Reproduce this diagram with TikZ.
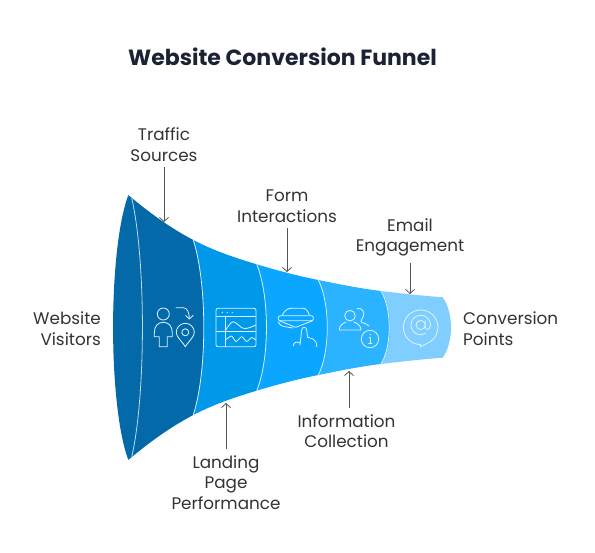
\documentclass[tikz,border=0pt]{standalone}
\usepackage{fontspec}
\setmainfont{Poppins}
\usetikzlibrary{arrows.meta}
\definecolor{bandA}{HTML}{0369A8}
\definecolor{bandB}{HTML}{0098E8}
\definecolor{bandC}{HTML}{0AA6FF}
\definecolor{bandD}{HTML}{2CB3FF}
\definecolor{bandE}{HTML}{80CEFF}
\definecolor{titleink}{HTML}{1B2233}
\definecolor{labelink}{HTML}{333333}
\definecolor{arrowink}{HTML}{555555}
\tikzset{
  label/.style={font=\fontsize{16.8}{20.5}\selectfont,text=labelink,align=center,inner sep=0pt},
  pointer/.style={-{Straight Barb[length=4pt,width=9pt]},draw=arrowink,line width=.8pt},
  icon/.style={draw=white!85!bandC,line width=.85pt,line cap=round,line join=round},
}
\begin{document}
\begin{tikzpicture}[x=1pt,y=-1pt]
\useasboundingbox (0,0) rectangle (595,553);
\node[font=\fontsize{22}{26}\selectfont\bfseries,text=titleink,inner sep=0pt] (title) at (282.5,57) {Website Conversion Funnel};
% bands, narrow end first
\foreach \col/\xa/\ya/\cax/\cay/\cbx/\cby/\xb/\yb/\bulge in {
  bandE/381/291/401.6/293.5/422.1/295.7/442.7/297.3/11,
  bandD/318.3/280/339.2/284.2/360.1/288.5/381/291/12,
  bandC/256.7/264.3/277.2/270.5/297.8/275.9/318.3/280/13,
  bandB/193.3/240/214.4/251/235.6/258/256.7/264.3/13,
  bandA/128.3/195/150/213.4/171.7/228.7/193.3/240/14}
{
  \fill[\col] (\xa,\ya) .. controls (\cax,\cay) and (\cbx,\cby) .. (\xb,\yb)
    .. controls ({\xb+\bulge},{\yb+(327.5-\yb)*.5}) and ({\xb+\bulge},{655-\yb-(327.5-\yb)*.5}) .. (\xb,{655-\yb})
    .. controls (\cbx,{655-\cby}) and (\cax,{655-\cay}) .. (\xa,{655-\ya}) -- cycle;
}
\fill[bandA] (128.3,195) .. controls (108,250) and (108,405) .. (128.3,460)
  .. controls (140,400) and (140,250) .. (128.3,195);
% seams
\foreach \xb/\yb/\bulge in {381/291/11,318.3/280/12,256.7/264.3/13,193.3/240/14}
  \draw[white!85!bandC,line width=.8pt] (\xb,\yb)
    .. controls ({\xb+\bulge},{\yb+(327.5-\yb)*.5}) and ({\xb+\bulge},{655-\yb-(327.5-\yb)*.5}) .. (\xb,{655-\yb});
\draw[white!75!bandA,line width=.8pt] (131.7,198) .. controls (146,260) and (146,395) .. (131.7,457);
% labels
\node[label] (traffic) at (164,144.5) {Traffic\\Sources};
\node[label] (form) at (287,206) {Form\\Interactions};
\node[label] (email) at (410,237.5) {Email\\Engagement};
\node[label] (info) at (346.5,431) {Information\\Collection};
\node[label] (landing) at (226,482.5) {Landing\\Page\\Performance};
\node[label,align=right,anchor=east] (visitors) at (101,328.5) {Website\\Visitors};
\node[label,align=left,anchor=west] (points) at (463,328.5) {Conversion\\Points};
% pointers
\coordinate (trafficend) at (164,222);
\coordinate (formend) at (287,272);
\coordinate (emailend) at (410,294);
\coordinate (infoend) at (349,371);
\coordinate (landingend) at (226,403);
\draw[pointer] (trafficend |- traffic.south) ++(0,6) -- (trafficend);
\draw[pointer] (formend |- form.south) ++(0,6) -- (formend);
\draw[pointer] (emailend |- email.south) ++(0,6) -- (emailend);
\draw[pointer] (infoend |- info.north) ++(0,-6) -- (infoend);
\draw[pointer] (landingend |- landing.north) ++(0,-6) -- (landingend);
% traffic icon
\draw[icon] (163.3,314) circle (6);
\draw[icon] (159.3,346.7) -- (159.3,336.7) -- (154.3,336.7) -- (154.3,333) .. controls (154.3,326) and (158,322.3) .. (163.3,322.3)
  .. controls (168.6,322.3) and (172.3,326) .. (172.3,333) -- (172.3,336.7) -- (167.3,336.7) -- (167.3,346.7) -- cycle;
\draw[icon] (185.3,346.7) .. controls (181,340) and (176.3,337) .. (176.3,332.3) arc (180:360:9) .. controls (194.3,337) and (189.6,340) .. (185.3,346.7);
\draw[icon] (185.3,332.3) circle (3.5);
\draw[icon] (176,307.7) -- (183,307.7) .. controls (187,307.7) and (189.3,312) .. (189.3,318.5);
\draw[icon] (185.6,315.5) -- (189.3,319) -- (193,315.5);
% page icon
\draw[icon,rounded corners=2pt] (216,308.3) rectangle (256,346.7);
\draw[icon] (216,316) -- (256,316) (225.7,316) -- (225.7,346.7) (216,331.7) -- (256,331.7);
\foreach \xa in {222.3,227.3,232.3}
  \fill[white!85!bandC] (\xa,312.4) circle (.7);
\draw[icon] plot[smooth] coordinates {(225.7,330) (233,321.7) (243,328.3) (250,327.5) (255.7,325)};
\draw[icon] plot[smooth] coordinates {(225.7,340) (231.5,336) (236,341.5) (241.7,336.7) (246.7,341.5) (251.7,337.5) (255.7,340)};
% form icon
\draw[icon] (282.3,315) .. controls (285,310) and (288,308.3) .. (291.7,308.3) -- (303,308.3) .. controls (306,308.3) and (308,311) .. (309.3,315);
\draw[icon,rounded corners=2pt] (278.3,315.7) rectangle (313.3,320.7);
\draw[icon] (279.3,320.7) -- (295.7,327.3) -- (312.7,320.7);
\draw[icon] (278.3,322) .. controls (280,325.5) and (283,326.7) .. (285,326.7) -- (293,328);
\draw[icon] (300,345) -- (301.7,330) .. controls (302,326.5) and (306.5,326.5) .. (306.7,330) -- (307.7,337.3) -- (313,339) .. controls (316,340.5) and (316.7,343) .. (316.7,346.7);
\draw[icon] (293.3,346) .. controls (293.5,342.5) and (296.5,341) .. (300,343);
% users icon
\draw[icon] (350,315.7) circle (5.3);
\draw[icon] (339.3,330) -- (361,330) .. controls (361,326) and (358,323.5) .. (354,322) (339.3,330) .. controls (339.5,326) and (342,323.5) .. (346,322);
\draw[icon] (357,308.5) .. controls (362,307.5) and (365,312) .. (363.5,316) .. controls (362.5,319) and (360.5,320) .. (361,322) .. controls (364,323) and (367,324) .. (369,326);
\draw[icon] (370,339) circle (8.7);
\draw[icon] (369,337.5) -- (370.3,337.5) -- (370.3,343) (368.7,343) -- (372,343);
\fill[white!85!bandC] (370.2,334.7) circle (.7);
% mail icon
\draw[icon] (420.3,347) -- (420.7,344.6) arc (90:415:17.3) -- cycle;
\draw[icon] (420.7,325) circle (4.6);
\draw[icon] (425.3,320.5) -- (425.3,327) .. controls (425.3,330.5) and (430.5,330.5) .. (430.5,325) arc (0:-300:9.8);
\end{tikzpicture}
\end{document}
